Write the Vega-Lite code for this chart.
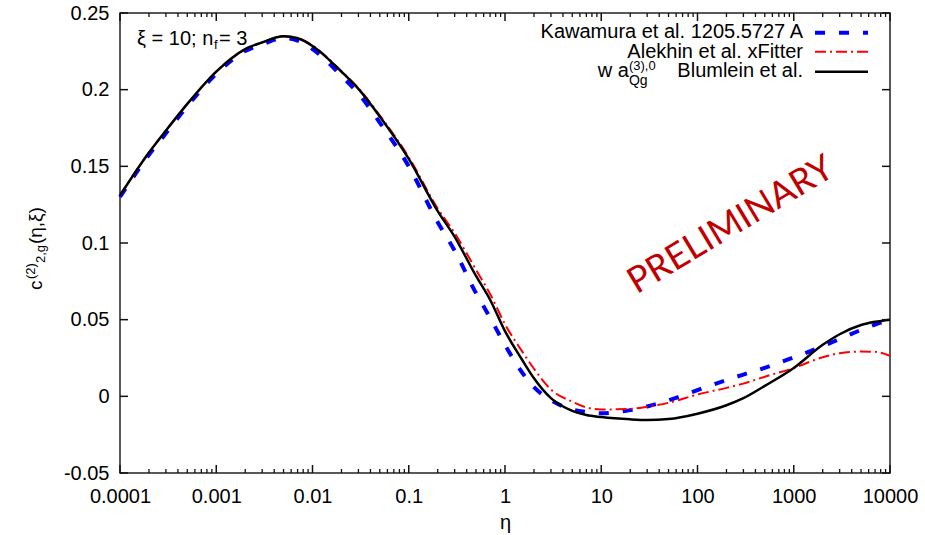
{
  "$schema": "https://vega.github.io/schema/vega-lite/v6.json",
  "width": 770,
  "height": 460,
  "autosize": {"type": "none"},
  "padding": {"left": 120, "top": 13, "right": 35, "bottom": 62},
  "background": "white",
  "config": {
    "view": {"stroke": "#222222", "strokeWidth": 1.5},
    "font": "Liberation Sans",
    "axis": {
      "grid": false,
      "domain": false,
      "ticks": false,
      "labelFont": "Liberation Sans",
      "labelFontSize": 20,
      "labelColor": "black",
      "titleFont": "Liberation Sans",
      "titleFontWeight": "normal",
      "titleColor": "black"
    },
    "text": {"font": "Liberation Sans", "color": "#000000"}
  },
  "datasets": {
    "xmajor": [{"v": 0.0001}, {"v": 0.001}, {"v": 0.01}, {"v": 0.1}, {"v": 1}, {"v": 10}, {"v": 100}, {"v": 1000}, {"v": 10000}],
    "xminor": [
      {"v": 0.0002}, {"v": 0.0003}, {"v": 0.0004}, {"v": 0.0005}, {"v": 0.0006}, {"v": 0.0007}, {"v": 0.0008}, {"v": 0.0009},
      {"v": 0.002}, {"v": 0.003}, {"v": 0.004}, {"v": 0.005}, {"v": 0.006}, {"v": 0.007}, {"v": 0.008}, {"v": 0.009},
      {"v": 0.02}, {"v": 0.03}, {"v": 0.04}, {"v": 0.05}, {"v": 0.06}, {"v": 0.07}, {"v": 0.08}, {"v": 0.09},
      {"v": 0.2}, {"v": 0.3}, {"v": 0.4}, {"v": 0.5}, {"v": 0.6}, {"v": 0.7}, {"v": 0.8}, {"v": 0.9},
      {"v": 2}, {"v": 3}, {"v": 4}, {"v": 5}, {"v": 6}, {"v": 7}, {"v": 8}, {"v": 9},
      {"v": 20}, {"v": 30}, {"v": 40}, {"v": 50}, {"v": 60}, {"v": 70}, {"v": 80}, {"v": 90},
      {"v": 200}, {"v": 300}, {"v": 400}, {"v": 500}, {"v": 600}, {"v": 700}, {"v": 800}, {"v": 900},
      {"v": 2000}, {"v": 3000}, {"v": 4000}, {"v": 5000}, {"v": 6000}, {"v": 7000}, {"v": 8000}, {"v": 9000}
    ],
    "yticks": [{"v": -0.05}, {"v": 0}, {"v": 0.05}, {"v": 0.1}, {"v": 0.15}, {"v": 0.2}, {"v": 0.25}]
  },
  "layer": [
    {
      "data": {"values": [
        {"eta": 0.0001, "c": 0.130, "series": "Kawamura"},
        {"eta": 0.0002, "c": 0.1575, "series": "Kawamura"},
        {"eta": 0.0003, "c": 0.1715, "series": "Kawamura"},
        {"eta": 0.0005, "c": 0.1892, "series": "Kawamura"},
        {"eta": 0.001, "c": 0.2103, "series": "Kawamura"},
        {"eta": 0.002, "c": 0.2252, "series": "Kawamura"},
        {"eta": 0.003, "c": 0.2295, "series": "Kawamura"},
        {"eta": 0.005, "c": 0.2336, "series": "Kawamura"},
        {"eta": 0.007, "c": 0.2320, "series": "Kawamura"},
        {"eta": 0.01, "c": 0.2265, "series": "Kawamura"},
        {"eta": 0.02, "c": 0.209, "series": "Kawamura"},
        {"eta": 0.03, "c": 0.1975, "series": "Kawamura"},
        {"eta": 0.05, "c": 0.1785, "series": "Kawamura"},
        {"eta": 0.1, "c": 0.150, "series": "Kawamura"},
        {"eta": 0.2, "c": 0.1135, "series": "Kawamura"},
        {"eta": 0.3, "c": 0.095, "series": "Kawamura"},
        {"eta": 0.5, "c": 0.0673, "series": "Kawamura"},
        {"eta": 0.7, "c": 0.0513, "series": "Kawamura"},
        {"eta": 1, "c": 0.0335, "series": "Kawamura"},
        {"eta": 1.5, "c": 0.0157, "series": "Kawamura"},
        {"eta": 2, "c": 0.006, "series": "Kawamura"},
        {"eta": 3, "c": -0.0025, "series": "Kawamura"},
        {"eta": 5, "c": -0.0086, "series": "Kawamura"},
        {"eta": 7, "c": -0.0102, "series": "Kawamura"},
        {"eta": 10, "c": -0.011, "series": "Kawamura"},
        {"eta": 20, "c": -0.009, "series": "Kawamura"},
        {"eta": 30, "c": -0.0066, "series": "Kawamura"},
        {"eta": 50, "c": -0.0026, "series": "Kawamura"},
        {"eta": 100, "c": 0.0041, "series": "Kawamura"},
        {"eta": 200, "c": 0.0106, "series": "Kawamura"},
        {"eta": 300, "c": 0.0142, "series": "Kawamura"},
        {"eta": 500, "c": 0.0186, "series": "Kawamura"},
        {"eta": 1000, "c": 0.0254, "series": "Kawamura"},
        {"eta": 2000, "c": 0.0327, "series": "Kawamura"},
        {"eta": 3000, "c": 0.0374, "series": "Kawamura"},
        {"eta": 5000, "c": 0.0433, "series": "Kawamura"},
        {"eta": 7000, "c": 0.0468, "series": "Kawamura"},
        {"eta": 10000, "c": 0.050, "series": "Kawamura"}
      ]},
      "mark": {"type": "line", "color": "#0000ff", "strokeWidth": 4, "strokeDash": [10, 14], "interpolate": "monotone"},
      "encoding": {
        "x": {
          "field": "eta", "type": "quantitative",
          "scale": {"type": "log", "domain": [0.0001, 10000], "nice": false},
          "axis": {
            "orient": "bottom",
            "title": "η",
            "titleFontSize": 20,
            "titlePadding": 6,
            "values": [0.0001, 0.001, 0.01, 0.1, 1, 10, 100, 1000, 10000],
            "ticks": false,
            "labelExpr": "format(datum.value, '~g')",
            "labelPadding": 13,
            "labelOverlap": false,
            "labelFlush": false,
            "labelBound": false
          }
        },
        "y": {
          "field": "c", "type": "quantitative",
          "scale": {"domain": [-0.05, 0.25], "nice": false, "zero": false},
          "axis": {
            "orient": "left",
            "title": null,
            "values": [-0.05, 0, 0.05, 0.1, 0.15, 0.2, 0.25],
            "ticks": false,
            "labelPadding": 11,
            "labelExpr": "replace(format(datum.value, '.2~f'), '\u2212', '-')"
          }
        }
      }
    },
    {
      "data": {"values": [
        {"eta": 0.0001, "c": 0.131, "series": "Alekhin"},
        {"eta": 0.0002, "c": 0.159, "series": "Alekhin"},
        {"eta": 0.0003, "c": 0.1733, "series": "Alekhin"},
        {"eta": 0.0005, "c": 0.1907, "series": "Alekhin"},
        {"eta": 0.001, "c": 0.2118, "series": "Alekhin"},
        {"eta": 0.002, "c": 0.2265, "series": "Alekhin"},
        {"eta": 0.003, "c": 0.2308, "series": "Alekhin"},
        {"eta": 0.005, "c": 0.2348, "series": "Alekhin"},
        {"eta": 0.007, "c": 0.2337, "series": "Alekhin"},
        {"eta": 0.01, "c": 0.2288, "series": "Alekhin"},
        {"eta": 0.02, "c": 0.212, "series": "Alekhin"},
        {"eta": 0.03, "c": 0.201, "series": "Alekhin"},
        {"eta": 0.05, "c": 0.1832, "series": "Alekhin"},
        {"eta": 0.1, "c": 0.156, "series": "Alekhin"},
        {"eta": 0.2, "c": 0.1225, "series": "Alekhin"},
        {"eta": 0.3, "c": 0.1065, "series": "Alekhin"},
        {"eta": 0.5, "c": 0.0825, "series": "Alekhin"},
        {"eta": 0.7, "c": 0.0668, "series": "Alekhin"},
        {"eta": 1, "c": 0.047, "series": "Alekhin"},
        {"eta": 1.5, "c": 0.0295, "series": "Alekhin"},
        {"eta": 2, "c": 0.018, "series": "Alekhin"},
        {"eta": 3, "c": 0.0045, "series": "Alekhin"},
        {"eta": 5, "c": -0.0035, "series": "Alekhin"},
        {"eta": 7, "c": -0.0072, "series": "Alekhin"},
        {"eta": 10, "c": -0.0086, "series": "Alekhin"},
        {"eta": 20, "c": -0.0082, "series": "Alekhin"},
        {"eta": 30, "c": -0.0068, "series": "Alekhin"},
        {"eta": 50, "c": -0.0042, "series": "Alekhin"},
        {"eta": 100, "c": 0.0012, "series": "Alekhin"},
        {"eta": 200, "c": 0.0055, "series": "Alekhin"},
        {"eta": 300, "c": 0.0083, "series": "Alekhin"},
        {"eta": 500, "c": 0.0128, "series": "Alekhin"},
        {"eta": 1000, "c": 0.0185, "series": "Alekhin"},
        {"eta": 2000, "c": 0.0255, "series": "Alekhin"},
        {"eta": 3000, "c": 0.0281, "series": "Alekhin"},
        {"eta": 5000, "c": 0.0292, "series": "Alekhin"},
        {"eta": 7000, "c": 0.029, "series": "Alekhin"},
        {"eta": 10000, "c": 0.0265, "series": "Alekhin"}
      ]},
      "mark": {"type": "line", "color": "#ff0000", "strokeWidth": 2, "strokeDash": [11, 4, 2, 4], "interpolate": "monotone"},
      "encoding": {
        "x": {"field": "eta", "type": "quantitative", "scale": {"type": "log", "domain": [0.0001, 10000], "nice": false}, "axis": null},
        "y": {"field": "c", "type": "quantitative", "scale": {"domain": [-0.05, 0.25], "nice": false, "zero": false}, "axis": null}
      }
    },
    {
      "data": {"values": [
        {"eta": 0.0001, "c": 0.131, "series": "Blumlein"},
        {"eta": 0.0002, "c": 0.159, "series": "Blumlein"},
        {"eta": 0.0003, "c": 0.1733, "series": "Blumlein"},
        {"eta": 0.0005, "c": 0.1907, "series": "Blumlein"},
        {"eta": 0.001, "c": 0.2118, "series": "Blumlein"},
        {"eta": 0.002, "c": 0.2265, "series": "Blumlein"},
        {"eta": 0.003, "c": 0.2308, "series": "Blumlein"},
        {"eta": 0.005, "c": 0.2348, "series": "Blumlein"},
        {"eta": 0.007, "c": 0.2335, "series": "Blumlein"},
        {"eta": 0.01, "c": 0.2285, "series": "Blumlein"},
        {"eta": 0.02, "c": 0.2117, "series": "Blumlein"},
        {"eta": 0.03, "c": 0.2005, "series": "Blumlein"},
        {"eta": 0.05, "c": 0.1825, "series": "Blumlein"},
        {"eta": 0.1, "c": 0.1549, "series": "Blumlein"},
        {"eta": 0.2, "c": 0.1208, "series": "Blumlein"},
        {"eta": 0.3, "c": 0.104, "series": "Blumlein"},
        {"eta": 0.5, "c": 0.0785, "series": "Blumlein"},
        {"eta": 0.7, "c": 0.063, "series": "Blumlein"},
        {"eta": 1, "c": 0.0425, "series": "Blumlein"},
        {"eta": 1.5, "c": 0.024, "series": "Blumlein"},
        {"eta": 2, "c": 0.0118, "series": "Blumlein"},
        {"eta": 3, "c": -0.0012, "series": "Blumlein"},
        {"eta": 5, "c": -0.0095, "series": "Blumlein"},
        {"eta": 7, "c": -0.0122, "series": "Blumlein"},
        {"eta": 10, "c": -0.0135, "series": "Blumlein"},
        {"eta": 20, "c": -0.015, "series": "Blumlein"},
        {"eta": 30, "c": -0.0154, "series": "Blumlein"},
        {"eta": 50, "c": -0.0148, "series": "Blumlein"},
        {"eta": 100, "c": -0.0113, "series": "Blumlein"},
        {"eta": 200, "c": -0.0058, "series": "Blumlein"},
        {"eta": 300, "c": -0.0012, "series": "Blumlein"},
        {"eta": 500, "c": 0.0068, "series": "Blumlein"},
        {"eta": 1000, "c": 0.0185, "series": "Blumlein"},
        {"eta": 2000, "c": 0.0336, "series": "Blumlein"},
        {"eta": 3000, "c": 0.0405, "series": "Blumlein"},
        {"eta": 5000, "c": 0.0465, "series": "Blumlein"},
        {"eta": 7000, "c": 0.0486, "series": "Blumlein"},
        {"eta": 10000, "c": 0.050, "series": "Blumlein"}
      ]},
      "mark": {"type": "line", "color": "#000000", "strokeWidth": 2.5, "interpolate": "monotone"},
      "encoding": {
        "x": {"field": "eta", "type": "quantitative", "scale": {"type": "log", "domain": [0.0001, 10000], "nice": false}, "axis": null},
        "y": {"field": "c", "type": "quantitative", "scale": {"domain": [-0.05, 0.25], "nice": false, "zero": false}, "axis": null}
      }
    },
    {
      "data": {"name": "xmajor"},
      "mark": {"type": "tick", "orient": "vertical", "size": 8, "thickness": 1.5, "color": "#111111", "opacity": 1, "yOffset": -4},
      "encoding": {
        "x": {"field": "v", "type": "quantitative", "scale": {"type": "log", "domain": [0.0001, 10000], "nice": false}, "axis": null},
        "y": {"datum": -0.05, "type": "quantitative", "scale": {"domain": [-0.05, 0.25], "nice": false, "zero": false}, "axis": null}
      }
    },
    {
      "data": {"name": "xminor"},
      "mark": {"type": "tick", "orient": "vertical", "size": 4, "thickness": 1.3, "color": "#111111", "opacity": 1, "yOffset": -2},
      "encoding": {
        "x": {"field": "v", "type": "quantitative", "scale": {"type": "log", "domain": [0.0001, 10000], "nice": false}, "axis": null},
        "y": {"datum": -0.05, "type": "quantitative", "scale": {"domain": [-0.05, 0.25], "nice": false, "zero": false}, "axis": null}
      }
    },
    {
      "data": {"name": "xmajor"},
      "mark": {"type": "tick", "orient": "vertical", "size": 8, "thickness": 1.5, "color": "#111111", "opacity": 1, "yOffset": 4},
      "encoding": {
        "x": {"field": "v", "type": "quantitative", "scale": {"type": "log", "domain": [0.0001, 10000], "nice": false}, "axis": null},
        "y": {"datum": 0.25, "type": "quantitative", "scale": {"domain": [-0.05, 0.25], "nice": false, "zero": false}, "axis": null}
      }
    },
    {
      "data": {"name": "xminor"},
      "mark": {"type": "tick", "orient": "vertical", "size": 4, "thickness": 1.3, "color": "#111111", "opacity": 1, "yOffset": 2},
      "encoding": {
        "x": {"field": "v", "type": "quantitative", "scale": {"type": "log", "domain": [0.0001, 10000], "nice": false}, "axis": null},
        "y": {"datum": 0.25, "type": "quantitative", "scale": {"domain": [-0.05, 0.25], "nice": false, "zero": false}, "axis": null}
      }
    },
    {
      "data": {"name": "yticks"},
      "mark": {"type": "tick", "orient": "horizontal", "size": 8, "thickness": 1.5, "color": "#111111", "opacity": 1, "xOffset": 4},
      "encoding": {
        "x": {"datum": 0.0001, "type": "quantitative", "scale": {"type": "log", "domain": [0.0001, 10000], "nice": false}, "axis": null},
        "y": {"field": "v", "type": "quantitative", "scale": {"domain": [-0.05, 0.25], "nice": false, "zero": false}, "axis": null}
      }
    },
    {
      "data": {"name": "yticks"},
      "mark": {"type": "tick", "orient": "horizontal", "size": 8, "thickness": 1.5, "color": "#111111", "opacity": 1, "xOffset": -4},
      "encoding": {
        "x": {"datum": 10000, "type": "quantitative", "scale": {"type": "log", "domain": [0.0001, 10000], "nice": false}, "axis": null},
        "y": {"field": "v", "type": "quantitative", "scale": {"domain": [-0.05, 0.25], "nice": false, "zero": false}, "axis": null}
      }
    },
    {
      "data": {"values": [{}]},
      "mark": {"type": "text", "text": "PRELIMINARY", "font": "Lato", "fontSize": 36, "color": "#c00000", "angle": -31, "align": "center", "baseline": "alphabetic"},
      "encoding": {
        "x": {"datum": 255, "type": "quantitative", "scale": {"type": "log", "domain": [0.0001, 10000], "nice": false}, "axis": null},
        "y": {"datum": 0.1055, "type": "quantitative", "scale": {"domain": [-0.05, 0.25], "nice": false, "zero": false}, "axis": null}
      }
    },
    {
      "data": {"values": [{}]},
      "mark": {"type": "text", "text": "ξ = 10; n", "fontSize": 20, "align": "left", "baseline": "alphabetic"},
      "encoding": {
        "x": {"datum": 0.0001503, "type": "quantitative", "scale": {"type": "log", "domain": [0.0001, 10000], "nice": false}, "axis": null},
        "y": {"datum": 0.2291, "type": "quantitative", "scale": {"domain": [-0.05, 0.25], "nice": false, "zero": false}, "axis": null}
      }
    },
    {
      "data": {"values": [{}]},
      "mark": {"type": "text", "text": "f", "fontSize": 13, "align": "left", "baseline": "alphabetic", "dx": 77, "dy": 4},
      "encoding": {
        "x": {"datum": 0.0001503, "type": "quantitative", "scale": {"type": "log", "domain": [0.0001, 10000], "nice": false}, "axis": null},
        "y": {"datum": 0.2291, "type": "quantitative", "scale": {"domain": [-0.05, 0.25], "nice": false, "zero": false}, "axis": null}
      }
    },
    {
      "data": {"values": [{}]},
      "mark": {"type": "text", "text": "= 3", "fontSize": 20, "align": "left", "baseline": "alphabetic", "dx": 82},
      "encoding": {
        "x": {"datum": 0.0001503, "type": "quantitative", "scale": {"type": "log", "domain": [0.0001, 10000], "nice": false}, "axis": null},
        "y": {"datum": 0.2291, "type": "quantitative", "scale": {"domain": [-0.05, 0.25], "nice": false, "zero": false}, "axis": null}
      }
    },
    {
      "data": {"values": [{}]},
      "mark": {"type": "text", "text": "c", "fontSize": 19, "align": "left", "baseline": "alphabetic", "angle": 270},
      "encoding": {
        "x": {"datum": 0.00001547, "type": "quantitative", "scale": {"type": "log", "domain": [0.0001, 10000], "nice": false}, "axis": null},
        "y": {"datum": 0.0693, "type": "quantitative", "scale": {"domain": [-0.05, 0.25], "nice": false, "zero": false}, "axis": null}
      }
    },
    {
      "data": {"values": [{}]},
      "mark": {"type": "text", "text": "(2)", "fontSize": 13, "align": "left", "baseline": "alphabetic", "angle": 270, "dx": 11, "dy": -7},
      "encoding": {
        "x": {"datum": 0.00001547, "type": "quantitative", "scale": {"type": "log", "domain": [0.0001, 10000], "nice": false}, "axis": null},
        "y": {"datum": 0.0693, "type": "quantitative", "scale": {"domain": [-0.05, 0.25], "nice": false, "zero": false}, "axis": null}
      }
    },
    {
      "data": {"values": [{}]},
      "mark": {"type": "text", "text": "2,g", "fontSize": 13, "align": "left", "baseline": "alphabetic", "angle": 270, "dx": 27, "dy": 3},
      "encoding": {
        "x": {"datum": 0.00001547, "type": "quantitative", "scale": {"type": "log", "domain": [0.0001, 10000], "nice": false}, "axis": null},
        "y": {"datum": 0.0693, "type": "quantitative", "scale": {"domain": [-0.05, 0.25], "nice": false, "zero": false}, "axis": null}
      }
    },
    {
      "data": {"values": [{}]},
      "mark": {"type": "text", "text": "(η,ξ)", "fontSize": 19, "align": "left", "baseline": "alphabetic", "angle": 270, "dx": 46},
      "encoding": {
        "x": {"datum": 0.00001547, "type": "quantitative", "scale": {"type": "log", "domain": [0.0001, 10000], "nice": false}, "axis": null},
        "y": {"datum": 0.0693, "type": "quantitative", "scale": {"domain": [-0.05, 0.25], "nice": false, "zero": false}, "axis": null}
      }
    },
    {
      "data": {"values": [{}]},
      "mark": {"type": "text", "text": "Kawamura et al. 1205.5727 A", "fontSize": 20, "align": "right", "baseline": "alphabetic"},
      "encoding": {
        "x": {"datum": 1247, "type": "quantitative", "scale": {"type": "log", "domain": [0.0001, 10000], "nice": false}, "axis": null},
        "y": {"datum": 0.2337, "type": "quantitative", "scale": {"domain": [-0.05, 0.25], "nice": false, "zero": false}, "axis": null}
      }
    },
    {
      "data": {"values": [{}]},
      "mark": {"type": "text", "text": "Alekhin et al. xFitter", "fontSize": 20, "align": "right", "baseline": "alphabetic"},
      "encoding": {
        "x": {"datum": 1247, "type": "quantitative", "scale": {"type": "log", "domain": [0.0001, 10000], "nice": false}, "axis": null},
        "y": {"datum": 0.2207, "type": "quantitative", "scale": {"domain": [-0.05, 0.25], "nice": false, "zero": false}, "axis": null}
      }
    },
    {
      "data": {"values": [{}]},
      "mark": {"type": "text", "text": "Blumlein et al.", "fontSize": 20, "align": "right", "baseline": "alphabetic"},
      "encoding": {
        "x": {"datum": 1247, "type": "quantitative", "scale": {"type": "log", "domain": [0.0001, 10000], "nice": false}, "axis": null},
        "y": {"datum": 0.208, "type": "quantitative", "scale": {"domain": [-0.05, 0.25], "nice": false, "zero": false}, "axis": null}
      }
    },
    {
      "data": {"values": [{}]},
      "mark": {"type": "text", "text": "w a", "fontSize": 20, "align": "right", "baseline": "alphabetic", "dx": -174},
      "encoding": {
        "x": {"datum": 1247, "type": "quantitative", "scale": {"type": "log", "domain": [0.0001, 10000], "nice": false}, "axis": null},
        "y": {"datum": 0.208, "type": "quantitative", "scale": {"domain": [-0.05, 0.25], "nice": false, "zero": false}, "axis": null}
      }
    },
    {
      "data": {"values": [{}]},
      "mark": {"type": "text", "text": "(3),0", "fontSize": 13, "align": "left", "baseline": "alphabetic", "dx": -174, "dy": -7},
      "encoding": {
        "x": {"datum": 1247, "type": "quantitative", "scale": {"type": "log", "domain": [0.0001, 10000], "nice": false}, "axis": null},
        "y": {"datum": 0.208, "type": "quantitative", "scale": {"domain": [-0.05, 0.25], "nice": false, "zero": false}, "axis": null}
      }
    },
    {
      "data": {"values": [{}]},
      "mark": {"type": "text", "text": "Qg", "fontSize": 14, "align": "left", "baseline": "alphabetic", "dx": -174, "dy": 8},
      "encoding": {
        "x": {"datum": 1247, "type": "quantitative", "scale": {"type": "log", "domain": [0.0001, 10000], "nice": false}, "axis": null},
        "y": {"datum": 0.208, "type": "quantitative", "scale": {"domain": [-0.05, 0.25], "nice": false, "zero": false}, "axis": null}
      }
    },
    {
      "data": {"values": [{}]},
      "mark": {"type": "rule", "color": "#0000ff", "strokeWidth": 4, "strokeDash": [10, 14]},
      "encoding": {
        "x": {"datum": 1663, "type": "quantitative", "scale": {"type": "log", "domain": [0.0001, 10000], "nice": false}, "axis": null},
        "x2": {"datum": 5904},
        "y": {"datum": 0.2372, "type": "quantitative", "scale": {"domain": [-0.05, 0.25], "nice": false, "zero": false}, "axis": null}
      }
    },
    {
      "data": {"values": [{}]},
      "mark": {"type": "rule", "color": "#ff0000", "strokeWidth": 2, "strokeDash": [11, 4, 2, 4]},
      "encoding": {
        "x": {"datum": 1663, "type": "quantitative", "scale": {"type": "log", "domain": [0.0001, 10000], "nice": false}, "axis": null},
        "x2": {"datum": 5904},
        "y": {"datum": 0.2248, "type": "quantitative", "scale": {"domain": [-0.05, 0.25], "nice": false, "zero": false}, "axis": null}
      }
    },
    {
      "data": {"values": [{}]},
      "mark": {"type": "rule", "color": "#000000", "strokeWidth": 2.5},
      "encoding": {
        "x": {"datum": 1663, "type": "quantitative", "scale": {"type": "log", "domain": [0.0001, 10000], "nice": false}, "axis": null},
        "x2": {"datum": 5904},
        "y": {"datum": 0.2117, "type": "quantitative", "scale": {"domain": [-0.05, 0.25], "nice": false, "zero": false}, "axis": null}
      }
    }
  ],
  "resolve": {"axis": {"x": "independent", "y": "independent"}}
}
